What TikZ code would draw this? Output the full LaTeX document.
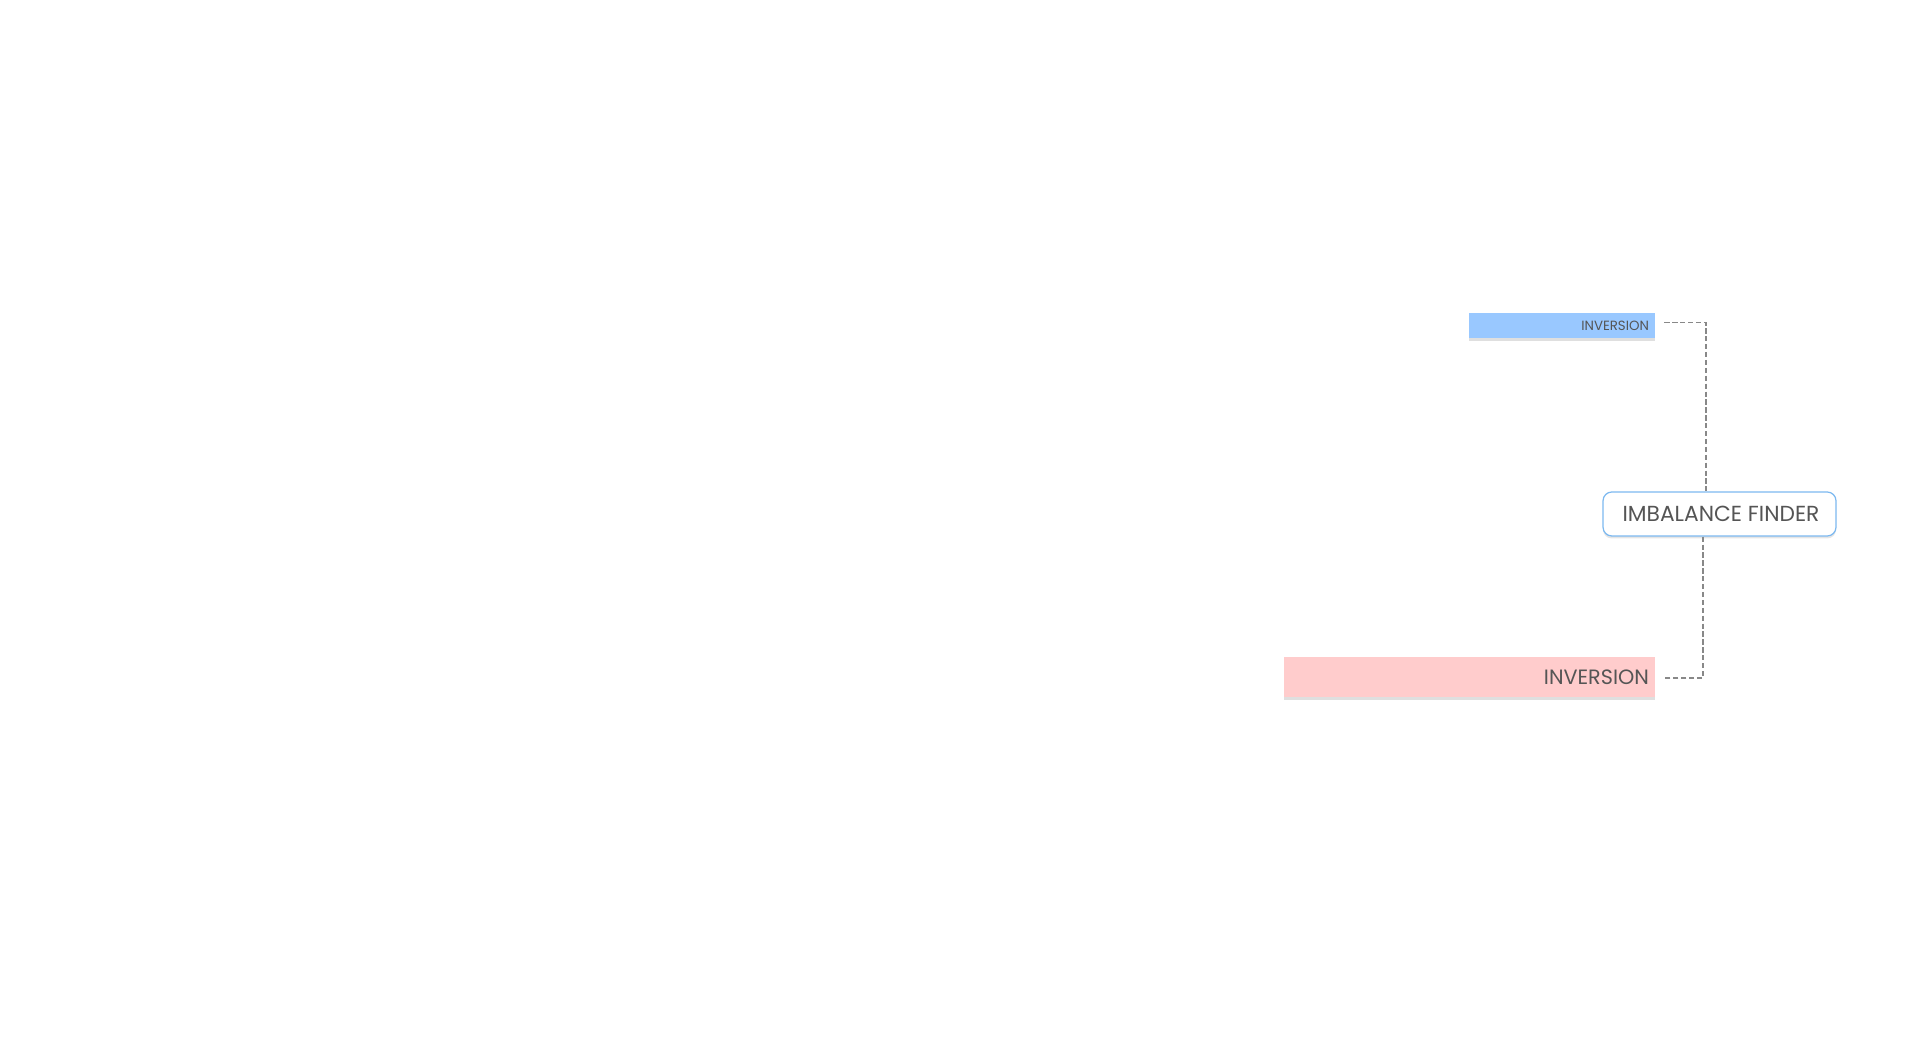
\documentclass[tikz,border=0pt]{standalone}
\usepackage{fontspec}
\setmainfont{Poppins}
\usepackage{xcolor}
\usepackage{tikz}
\usetikzlibrary{positioning, shadows}
\definecolor{barblue}{RGB}{153, 200, 255}
\definecolor{barpink}{RGB}{255, 204, 204}
\definecolor{finderblue}{RGB}{125, 185, 240}
\definecolor{textgray}{RGB}{85, 85, 85}
\definecolor{linkgray}{RGB}{136, 136, 136}
\tikzset{
  bluebar/.style={
    rectangle, minimum height=0.5cm, inner xsep=0.12cm,
    text width=3.48cm, align=right, font=\fontsize{7.6}{8}\selectfont,
    text=textgray, fill=barblue,
    drop shadow={shadow xshift=0pt, shadow yshift=-0.06cm, opacity=0.25}
  },
  pinkbar/.style={
    rectangle, minimum height=0.82cm, inner xsep=0.12cm,
    text width=7.18cm, align=right, font=\fontsize{11.8}{12}\selectfont,
    text=textgray, fill=barpink,
    drop shadow={shadow xshift=0pt, shadow yshift=-0.06cm, opacity=0.25}
  },
  findernode/.style={
    rectangle, rounded corners=5pt,
    minimum width=4.66cm, minimum height=0.88cm,
    text centered, font=\fontsize{12.4}{13}\selectfont,
    text=textgray, draw=finderblue, fill=white, line width=0.7pt,
    drop shadow={shadow xshift=0pt, shadow yshift=-0.05cm, opacity=0.2}
  },
  link/.style={draw=linkgray, line width=0.6pt, dash pattern=on 3pt off 1.5pt}
}
\begin{document}
\begin{tikzpicture}[x=0.02cm, y=-0.02cm]

  \fill[white] (0,0) rectangle (1920,1053);
  \useasboundingbox (0,0) rectangle (1920,1053);

  %% --- Finder ---
  \node[findernode] (finder) at (1719.5,514) {\hspace{0.06cm}IMBALANCE FINDER};

  %% --- Bars ---
  \node[bluebar] (blue) at (1562,325.5) {INVERSION};
  \node[pinkbar] (pink) at (1469.5,677) {INVERSION};

  %% --- Links ---
  \draw[link] ([xshift=0.18cm, yshift=0.06cm]blue.east) -| ([xshift=-0.27cm]finder.north);
  \draw[link] ([xshift=-0.33cm]finder.south) |- ([xshift=0.2cm, yshift=-0.02cm]pink.east);

\end{tikzpicture}
\end{document}
